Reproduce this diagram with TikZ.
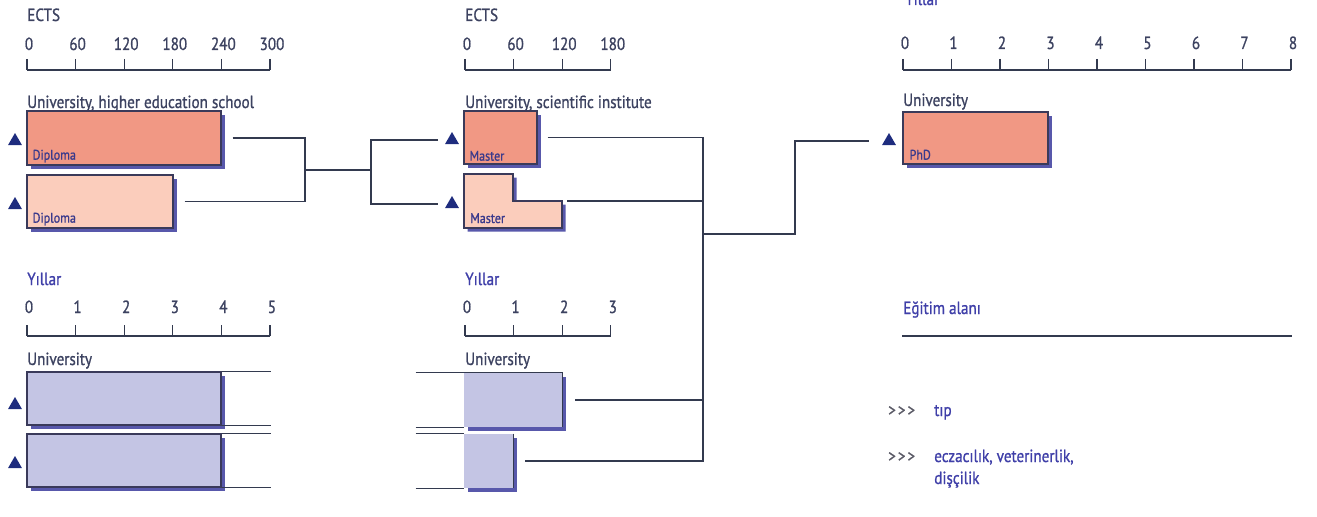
\documentclass[tikz,border=0pt]{standalone}
\usepackage{fontspec}
\setmainfont{PT Sans}[FakeStretch=0.86, FakeBold=1]
\usepackage{tikz}
\usetikzlibrary{shapes.geometric,shadows,calc,fit,positioning}
\definecolor{edusalmon}{HTML}{F19884}
\definecolor{edupeach}{HTML}{FBCDBC}
\definecolor{edulav}{HTML}{C4C5E4}
\definecolor{edunavy}{HTML}{1E2C7E}
\definecolor{edushadow}{HTML}{2E2E96}
\definecolor{eduborder}{HTML}{3A3A5A}
\definecolor{eduline}{HTML}{333A4F}
\definecolor{edugray}{HTML}{3C4260}
\definecolor{edublue}{HTML}{3F3FA8}
\definecolor{edupurple}{HTML}{3A3A8C}
\definecolor{eduarrow}{HTML}{5A5A66}
\tikzstyle{link} = [draw=eduline, line width=1.1pt]
\tikzstyle{axisline} = [draw=eduline, line width=1pt]
\tikzstyle{barshadow} = [drop shadow={shadow xshift=2.8pt, shadow yshift=-2.8pt, fill=edushadow, opacity=.8}]
\tikzstyle{bar} = [rectangle, draw=eduborder, line width=1pt, inner sep=0pt, barshadow]
\tikzstyle{tri} = [regular polygon, regular polygon sides=3, fill=edunavy, inner sep=0pt, minimum size=12pt]
\tikzstyle{head} = [anchor=base west, inner sep=0pt, text=edugray, font=\fontsize{13.2}{15}\selectfont]
\tikzstyle{yearhead} = [anchor=base west, inner sep=0pt, text=edublue, font=\fontsize{13.2}{15}\selectfont]
\tikzstyle{num} = [anchor=base, inner sep=0pt, text=edugray, font=\fontsize{13.2}{15}\selectfont]
\tikzstyle{inbar} = [anchor=base west, inner sep=0pt, text=edupurple, font=\fontsize{10.5}{12}\selectfont]
\tikzstyle{chevrons} = [anchor=base west, inner sep=0pt, text=eduarrow, font=\fontsize{13}{15}\selectfont]

\begin{document}
\begin{tikzpicture}[x=0.75pt, y=-0.75pt]
\useasboundingbox (0,0) rectangle (1317,517);

\node[head] (ectsA) at (27,21) {ECTS};
\foreach \i/\v in {0/0,1/60,2/120,3/180,4/240,5/300}{
  \draw[axisline] (27+48.6*\i,59) -- (27+48.6*\i,70);
  \node[num] (ectsA-\i) at (29+48.6*\i,50) {\v};
}
\draw[axisline] (27,70) -- (270,70);
\node[head] (instA) at (27,108) {University, higher education school};
\node[bar, fill=edusalmon, fit={(27,111) (221,165)}] (dipA) {};
\node[bar, fill=edupeach, fit={(27,175) (173,228)}] (dipB) {};
\node[inbar] (dipAtxt) at ($(dipA.south west)+(6,-6)$) {Diploma};
\node[inbar] (dipBtxt) at ($(dipB.south west)+(6,-6)$) {Diploma};
\node[tri] (triA) at (15,141) {};
\node[tri] (triB) at (15,205) {};

\node[head] (ectsB) at (465,21) {ECTS};
\foreach \i/\v in {0/0,1/60,2/120,3/180}{
  \draw[axisline] (465+48.6*\i,59) -- (465+48.6*\i,70);
  \node[num] (ectsB-\i) at (467+48.6*\i,50) {\v};
}
\draw[axisline] (465,70) -- (611,70);
\node[head] (instB) at (465,108) {University, scientific institute};
\node[bar, fill=edusalmon, fit={(464,111) (537,164)}] (mstA) {};
\filldraw[fill=edupeach, draw=eduborder, line width=1pt, barshadow] (464,174) -- (513,174) -- (513,201) -- (562,201) -- (562,228) -- (464,228) -- cycle;
\coordinate (mstB) at (562,201);
\node[inbar] (mstAtxt) at ($(mstA.south west)+(6,-4)$) {Master};
\node[inbar] (mstBtxt) at (470,223) {Master};
\node[tri] (triC) at (452,140) {};
\node[tri] (triD) at (452,204) {};

\node[yearhead] (yrsP) at (905,5) {Yıllar};
\foreach \i in {0,...,8}{
  \draw[axisline] (903+48.5*\i,59) -- (903+48.5*\i,70);
  \node[num] (yrsP-\i) at (905+48.5*\i,49) {\i};
}
\draw[axisline] (903,70) -- (1291,70);
\node[head] (instP) at (903,106) {University};
\node[bar, fill=edusalmon, fit={(903,112) (1048,164)}] (phd) {};
\node[inbar] (phdtxt) at ($(phd.south west)+(7,-5)$) {PhD};
\node[tri] (triP) at (889,141) {};

\node[yearhead] (yrsA) at (27,285) {Yıllar};
\foreach \i in {0,...,5}{
  \draw[axisline] (27+48.6*\i,325) -- (27+48.6*\i,336);
  \node[num] (yrsA-\i) at (29+48.6*\i,313) {\i};
}
\draw[axisline] (27,336) -- (270,336);
\node[head] (instE) at (27,365) {University};
\node[bar, fill=edulav, fit={(27,372) (221,425)}] (uniA) {};
\node[bar, fill=edulav, fit={(27,434) (221,487)}] (uniB) {};
\node[tri] (triE) at (15,405) {};
\node[tri] (triF) at (15,464) {};
\draw[link] (uniA.north east) -- ++(49,0);
\draw[link] (uniA.south east) -- ++(49,0);
\draw[link] (uniB.north east) -- ++(49,0);
\draw[link] (uniB.south east) -- ++(49,0);

\node[yearhead] (yrsB) at (465,285) {Yıllar};
\foreach \i in {0,...,3}{
  \draw[axisline] (465+48.6*\i,325) -- (465+48.6*\i,336);
  \node[num] (yrsB-\i) at (467+48.6*\i,313) {\i};
}
\draw[axisline] (465,336) -- (611,336);
\node[head] (instF) at (465,365) {University};
\node[fill=edulav, inner sep=0pt, barshadow, fit={(464,373) (562,427)}] (uniC) {};
\node[fill=edulav, inner sep=0pt, barshadow, fit={(464,434) (513,488)}] (uniD) {};
\draw[link] ($(uniC.north west)+(-48,0)$) -- (uniC.north east) -- (uniC.south east);
\draw[link] ($(uniC.south west)+(-48,0)$) -- (uniC.south west);
\draw[link] ($(uniD.north west)+(-48,0)$) -- (uniD.north west);
\draw[link] ($(uniD.south west)+(-48,0)$) -- (uniD.south west);
\draw[link] (uniD.north east) -- (uniD.south east);

\coordinate (jA) at (305,170);
\coordinate (jB) at (371,170);
\coordinate (jC) at (703,234);
\coordinate (jD) at (795,234);
\draw[link] ($(dipA.east)+(11,0)$) -| (jA);
\draw[link] ($(dipB.east)+(11,0)$) -| (jA) -- (jB);
\draw[link] ($(triC.west)+(-9,0)$) -| (jB) |- ($(triD.west)+(-9,0)$);
\draw[link] ($(mstA.east)+(10,0)$) -| (jC);
\draw[link] ($(mstB)+(5,0)$) -| (jC);
\draw[link] ($(uniC.east)+(13,0)$) -| (jC);
\draw[link] ($(uniD.east)+(12,0)$) -| (jC);
\draw[link] (jC) -- (jD) |- ($(triP.west)+(-15,0)$);

\node[yearhead] (field) at (903,314) {Eğitim alanı};
\draw[link] ($(field.base west)+(-1,22)$) -- ++(390,0);
\node[chevrons] (arrA) at (888,416) {>\hspace{1.6pt}>\hspace{1.6pt}>};
\node[yearhead] (medA) at (934,416) {tıp};
\node[chevrons] (arrB) at (888,462) {>\hspace{1.6pt}>\hspace{1.6pt}>};
\node[yearhead] (medB) at (934,462) {eczacılık, veterinerlik,};
\node[yearhead] (medC) at (934,484) {dişçilik};
\end{tikzpicture}
\end{document}
